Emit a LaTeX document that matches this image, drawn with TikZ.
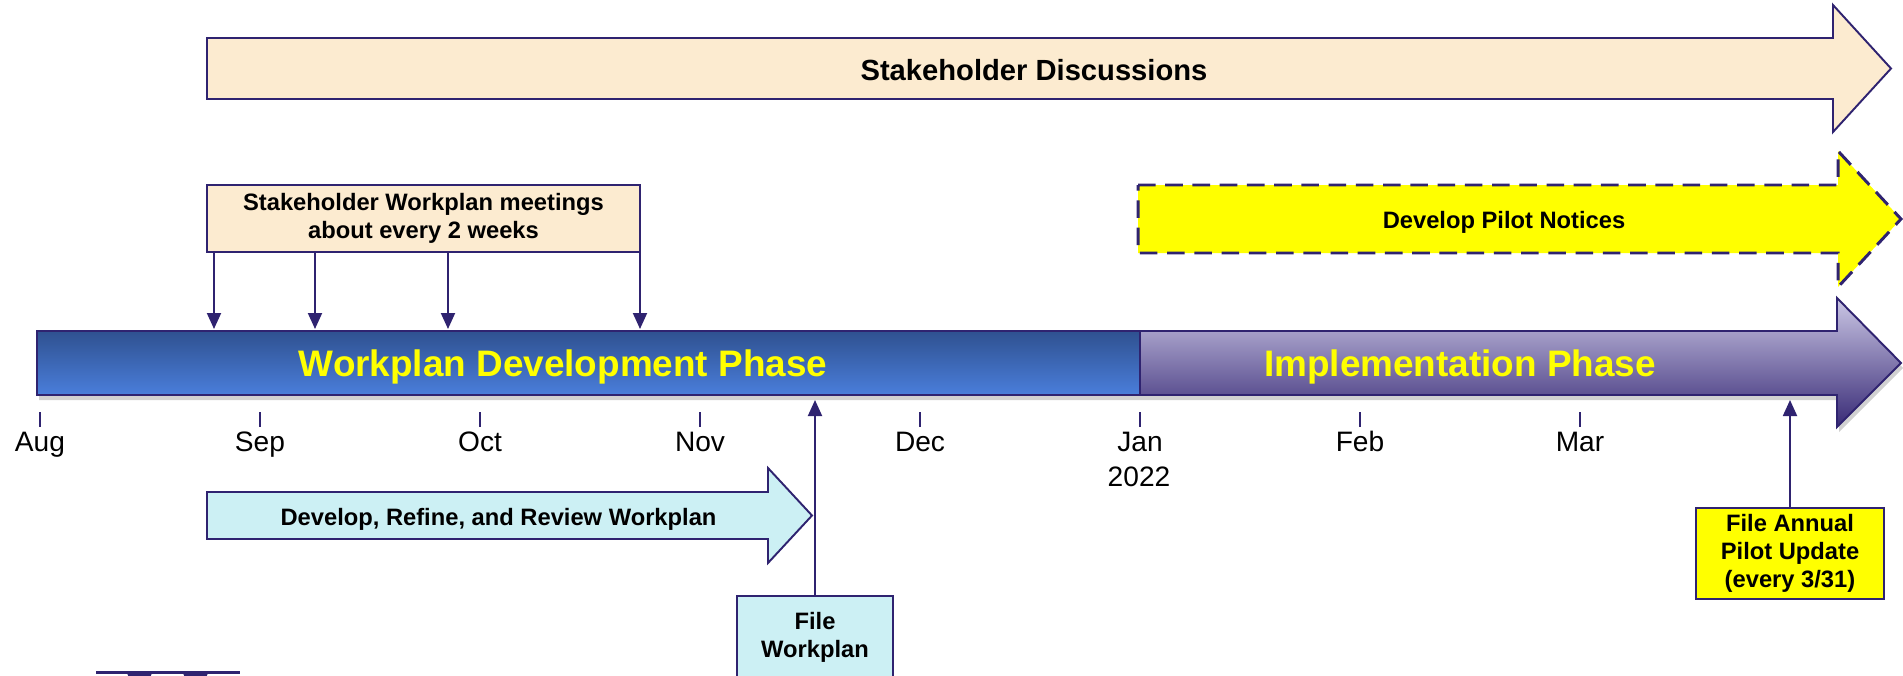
\documentclass[tikz,border=0pt]{standalone}
\usepackage{fontspec}
\setmainfont{Liberation Sans}
\usetikzlibrary{arrows.meta}

\definecolor{edgepurple}{HTML}{2F2370}
\definecolor{beige}{HTML}{FCEBD0}
\definecolor{paleblue}{HTML}{CCF0F4}
\definecolor{pilotyellow}{HTML}{FFFF00}
\definecolor{bluetop}{HTML}{2F5190}
\definecolor{bluebot}{HTML}{4A7EDB}
\definecolor{purpletop}{HTML}{CBC7E5}
\definecolor{purplebot}{HTML}{382A76}

\tikzset{
  boxtext/.style={font=\fontsize{13.5}{16}\selectfont\bfseries, align=center},
  notebox/.style={boxtext, draw=edgepurple, line width=1.1pt, inner sep=0pt},
  blockarrow/.style={draw=edgepurple, line width=1.1pt},
  pointer/.style={draw=edgepurple, line width=1.1pt, -{Triangle[length=0.32cm,width=0.28cm]}},
  phasetext/.style={font=\fontsize{21}{25}\selectfont\bfseries, text=pilotyellow, anchor=base},
  monthtext/.style={font=\fontsize{16}{20}\selectfont, anchor=base},
  tick/.style={draw=edgepurple, line width=1.1pt},
}

\begin{document}
\begin{tikzpicture}[x=0.02cm, y=-0.02cm]
        % Slide area
        \useasboundingbox (0,0) rectangle (1903,676);
        \clip (0,0) rectangle (1903,676);

        % Stakeholder discussions over the whole period
        \draw[blockarrow, fill=beige] (207,38) -- (1833,38) -- (1833,5) -- (1891,68.5)
            -- (1833,132) -- (1833,99) -- (207,99) -- cycle;
        \node[boxtext, font=\fontsize{16.6}{20}\selectfont\bfseries, anchor=base] (discuss) at (1034,80) {Stakeholder Discussions};

        % Pilot notices (dashed, still to come)
        \draw[draw=edgepurple, line width=1.7pt, dash pattern=on 10pt off 5.5pt, fill=pilotyellow]
            (1138,185) -- (1838,185) -- (1838,151) -- (1901,219) -- (1838,287) -- (1838,253) -- (1138,253) -- cycle;
        \node[boxtext, anchor=base] (notices) at (1504,228) {Develop Pilot Notices};

        % Meetings box
        \node[notebox, fill=beige, minimum width=8.66cm, minimum height=1.34cm] (meet) at (423.5,218.5)
            {Stakeholder Workplan meetings\\about every 2 weeks};

        % Shadow of the phase bar
        \fill[black, opacity=0.18] (39,336) -- (1839,336) -- (1839,303) -- (1903,368) -- (1839,432)
            -- (1839,400) -- (39,400) -- cycle;

        % The two phases
        \shade[top color=bluetop, bottom color=bluebot] (37,331) rectangle (1140,395);
        \shade[top color=purpletop, bottom color=purplebot] (1140,331) -- (1837,331) -- (1837,298)
            -- (1901,363) -- (1837,427) -- (1837,395) -- (1140,395) -- cycle;
        \draw[blockarrow] (37,331) rectangle (1140,395);
        \draw[blockarrow] (1140,331) -- (1837,331) -- (1837,298) -- (1901,363) -- (1837,427)
            -- (1837,395) -- (1140,395);
        \node[phasetext] (devphase) at (563,376) {Workplan Development Phase};
        \node[phasetext] (impphase) at (1460,376) {Implementation Phase};

        % Meeting arrows down to the bar
        \foreach \x [count=\n] in {214,315,448,640} {
            \coordinate (hit\n) at (\x,329);
            \draw[pointer] (meet.south -| hit\n) -- (hit\n);
        }

        % Month ticks and labels
        \foreach \m [count=\k from 0] in {Aug,Sep,Oct,Nov,Dec,Jan,Feb,Mar} {
            \draw[tick] (40+220*\k,412) -- (40+220*\k,427);
            \node[monthtext] (m\k) at (40+220*\k,451) {\m};
        }
        \node[monthtext] (year) at (1139,486) {2022};

        % Develop, refine, review
        \draw[blockarrow, fill=paleblue] (207,492) -- (768,492) -- (768,468) -- (812,515.5)
            -- (768,563) -- (768,539) -- (207,539) -- cycle;
        \node[boxtext, anchor=base] (refine) at (498.5,525) {Develop, Refine, and Review Workplan};

        % File workplan
        \node[notebox, fill=paleblue, minimum width=3.12cm, minimum height=1.66cm] (filewp) at (815,637.5)
            {File\\Workplan};
        \coordinate (wphit) at (815,400);
        \draw[pointer] (filewp.north) -- (wphit);

        % Annual pilot update
        \node[notebox, fill=pilotyellow, minimum width=3.77cm, minimum height=1.82cm] (update) at (1790,553.5)
            {File Annual\\Pilot Update\\(every 3/31)};
        \coordinate (uphit) at (1790,400);
        \draw[pointer] (update.north) -- (uphit);

        % Cut-off logo at the bottom edge
        \fill[edgepurple] (96,671) rectangle (240,673.5);
        \fill[edgepurple] (127,673) -- (152,673) -- (149,680) -- (130,680) -- cycle;
        \fill[edgepurple] (183,673) -- (208,673) -- (205,680) -- (186,680) -- cycle;
    \end{tikzpicture}
\end{document}
